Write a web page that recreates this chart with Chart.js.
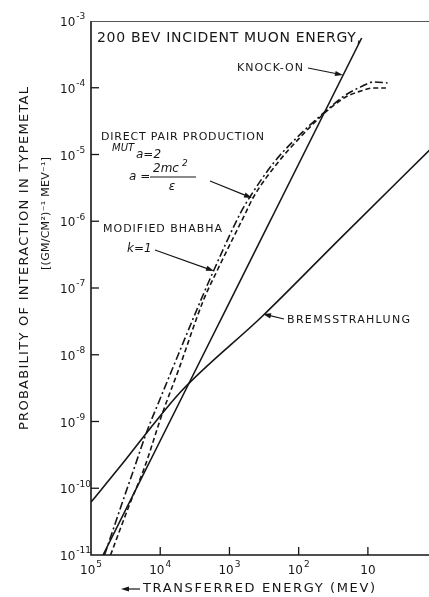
<!DOCTYPE html>
<html>
<head>
<meta charset="utf-8">
<script src="https://cdn.jsdelivr.net/npm/chart.js@4.4.1/dist/chart.umd.min.js"></script>
<style>
  html, body { margin: 0; padding: 0; background: #fff; }
  #wrap { width: 429px; height: 597px; }
</style>
</head>
<body>
<div id="wrap"><canvas id="muonChart" width="429" height="597"></canvas></div>
<script>
// transferred energy (MeV) vs probability
const knockOnE = [6.7e4, 12.3];
const knockOnP = [1e-11, 5.56e-4];

const pairE = [6.38e4, 3.51e4, 2.43e4, 1.53e4, 1.02e4, 6.87e3, 2.62e3, 1.70e3, 692, 496, 231, 104, 43.7, 21, 12.7, 8.3, 5.2];
const pairP = [1e-11, 6.2e-11, 1.87e-10, 7.46e-10, 2.1e-9, 5.7e-9, 6.38e-8, 1.8e-7, 1.33e-6, 2.39e-6, 7.46e-6, 1.83e-5, 4.19e-5, 7.78e-5, 1.03e-4, 1.22e-4, 1.18e-4];

const bhabhaE = [5.22e4, 2.69e4, 1.74e4, 9.27e3, 5.45e3, 2.37e3, 1.49e3, 585, 449, 202, 94, 43.7, 21, 12.7, 8.3, 5.5];
const bhabhaP = [1e-11, 6.2e-11, 1.87e-10, 1.34e-9, 5.9e-9, 6.6e-8, 1.86e-7, 1.33e-6, 2.31e-6, 7.46e-6, 1.83e-5, 4.05e-5, 7.26e-5, 8.93e-5, 9.9e-5, 9.9e-5];

const bremsE = [1e5, 3.75e4, 1.38e4, 5.09e3, 321, 24.8, 1.28];
const bremsP = [6.2e-11, 2.15e-10, 8.0e-10, 2.77e-9, 3.94e-8, 5.6e-7, 1.17e-5];

// axis ticks (x axis runs from high energy on the left to low on the right)
const xTickValues = [1e5, 1e4, 1e3, 1e2, 10];
const xTickExps = ['5', '4', '3', '2', ''];
const yTickValues = [1e-3, 1e-4, 1e-5, 1e-6, 1e-7, 1e-8, 1e-9, 1e-10, 1e-11];
const yTickExps = ['-3', '-4', '-5', '-6', '-7', '-8', '-9', '-10', '-11'];

const ink = '#161616';
const face = '"DejaVu Sans", sans-serif';

function toPoints(es, ps) {
    return es.map((e, i) => ({ x: e, y: ps[i] }));
}

// draw text stretched (by letter spacing) between x0 and x1
function fitText(ctx, text, x0, x1, y, font) {
    ctx.font = font;
    if ('letterSpacing' in ctx) ctx.letterSpacing = '0px';
    const w = ctx.measureText(text).width;
    const sp = (x1 - x0 - w) / Math.max(text.length - 1, 1);
    ctx.textAlign = 'left';
    ctx.textBaseline = 'middle';
    if (sp >= 0 && 'letterSpacing' in ctx) {
        ctx.letterSpacing = sp + 'px';
        ctx.fillText(text, x0, y);
        ctx.letterSpacing = '0px';
    } else {
        ctx.save();
        ctx.translate(x0, y);
        ctx.scale((x1 - x0) / w, 1);
        ctx.fillText(text, 0, 0);
        ctx.restore();
    }
}

function plainText(ctx, text, x, y, font) {
    ctx.font = font;
    ctx.textAlign = 'left';
    ctx.textBaseline = 'middle';
    ctx.fillText(text, x, y);
}

function arrow(ctx, x0, y0, x1, y1) {
    const a = Math.atan2(y1 - y0, x1 - x0);
    ctx.beginPath();
    ctx.moveTo(x0, y0);
    ctx.lineTo(x1 - 5 * Math.cos(a), y1 - 5 * Math.sin(a));
    ctx.stroke();
    ctx.beginPath();
    ctx.moveTo(x1, y1);
    ctx.lineTo(x1 - 8 * Math.cos(a) + 2.6 * Math.sin(a), y1 - 8 * Math.sin(a) - 2.6 * Math.cos(a));
    ctx.lineTo(x1 - 8 * Math.cos(a) - 2.6 * Math.sin(a), y1 - 8 * Math.sin(a) + 2.6 * Math.cos(a));
    ctx.closePath();
    ctx.fill();
}

function power(ctx, exp, x, y, align) {
    ctx.font = '12px ' + face;
    const wb = ctx.measureText('10').width;
    ctx.font = '9px ' + face;
    const we = exp ? ctx.measureText(exp).width + 1 : 0;
    const left = align === 'center' ? x - (wb + we) / 2 : x;
    ctx.textAlign = 'left';
    ctx.textBaseline = 'middle';
    ctx.font = '12px ' + face;
    ctx.fillText('10', left, y);
    if (exp) {
        ctx.font = '9px ' + face;
        ctx.fillText(exp, left + wb + 1, y - 6);
    }
}

const decor = {
    id: 'decor',
    afterDraw(chart) {
        const ctx = chart.ctx;
        const xs = chart.scales.x, ys = chart.scales.y;
        const a = chart.chartArea;
        ctx.save();
        ctx.strokeStyle = ink;
        ctx.fillStyle = ink;

        // frame: left axis, bottom axis, thin top line
        ctx.lineWidth = 1.6;
        ctx.beginPath();
        ctx.moveTo(a.left, a.top);
        ctx.lineTo(a.left, a.bottom);
        ctx.lineTo(a.right, a.bottom);
        ctx.stroke();
        ctx.lineWidth = 1;
        ctx.strokeStyle = '#555';
        ctx.beginPath();
        ctx.moveTo(a.left, a.top + 0.5);
        ctx.lineTo(a.right, a.top + 0.5);
        ctx.stroke();
        ctx.strokeStyle = ink;

        // inward ticks and labels
        ctx.lineWidth = 1.3;
        yTickValues.forEach((v, i) => {
            const py = ys.getPixelForValue(v);
            if (i > 0 && i < yTickValues.length - 1) {
                ctx.beginPath();
                ctx.moveTo(a.left, py);
                ctx.lineTo(a.left + 8, py);
                ctx.stroke();
            }
            power(ctx, yTickExps[i], 60, py + 2, 'left');
        });
        xTickValues.forEach((v, i) => {
            const px = xs.getPixelForValue(v);
            if (i > 0) {
                ctx.beginPath();
                ctx.moveTo(px, a.bottom);
                ctx.lineTo(px, a.bottom - 8);
                ctx.stroke();
            }
            power(ctx, xTickExps[i], px, 571, 'center');
        });

        // axis titles
        ctx.lineWidth = 1.2;
        arrow(ctx, 140, 589, 121, 589);
        fitText(ctx, 'TRANSFERRED ENERGY (MEV)', 143, 375, 589, '13px ' + face);

        ctx.save();
        ctx.translate(25, 430);
        ctx.rotate(-Math.PI / 2);
        fitText(ctx, 'PROBABILITY OF INTERACTION IN TYPEMETAL', 0, 343, 0, '13px ' + face);
        ctx.restore();
        ctx.save();
        ctx.translate(46, 270);
        ctx.rotate(-Math.PI / 2);
        fitText(ctx, '[(GM/CM²)⁻¹ MEV⁻¹]', 0, 113, 0, '11px ' + face);
        ctx.restore();

        // annotations
        fitText(ctx, '200 BEV INCIDENT MUON ENERGY,', 97, 361, 38, '14px ' + face);
        fitText(ctx, 'KNOCK-ON', 237, 303, 68, '11px ' + face);
        fitText(ctx, 'DIRECT PAIR PRODUCTION', 101, 264, 137, '11px ' + face);
        plainText(ctx, 'MUT', 112, 148, 'italic 10px ' + face);
        plainText(ctx, 'a=2', 136, 155, 'italic 12px ' + face);
        plainText(ctx, 'a =', 129, 177, 'italic 12px ' + face);
        plainText(ctx, '2mc', 153, 169, 'italic 12px ' + face);
        plainText(ctx, '2', 182, 164, 'italic 9px ' + face);
        ctx.lineWidth = 1.1;
        ctx.beginPath();
        ctx.moveTo(150, 177);
        ctx.lineTo(196, 177);
        ctx.stroke();
        ctx.font = 'italic 12px ' + face;
        ctx.textAlign = 'center';
        ctx.fillText('ε', 172, 187);
        fitText(ctx, 'MODIFIED BHABHA', 103, 222, 229, '11px ' + face);
        plainText(ctx, 'k=1', 127, 249, 'italic 12px ' + face);
        fitText(ctx, 'BREMSSTRAHLUNG', 287, 410, 320, '11px ' + face);

        ctx.lineWidth = 1.2;
        arrow(ctx, 308, 68, 343, 75);
        arrow(ctx, 210, 181, 252, 198);
        arrow(ctx, 155, 250, 214, 271);
        arrow(ctx, 284, 319, 263, 314);
        ctx.restore();
    }
};

const curveStyle = {
    showLine: true,
    borderColor: ink,
    borderWidth: 1.6,
    pointRadius: 0,
    fill: false
};

const muonChart = new Chart(document.getElementById('muonChart'), {
    type: 'scatter',
    data: {
        datasets: [
            Object.assign({ label: 'Knock-on', data: toPoints(knockOnE, knockOnP), tension: 0 }, curveStyle),
            Object.assign({ label: 'Direct pair production', data: toPoints(pairE, pairP),
                cubicInterpolationMode: 'monotone', borderDash: [8, 3, 2, 3] }, curveStyle),
            Object.assign({ label: 'Modified Bhabha', data: toPoints(bhabhaE, bhabhaP),
                cubicInterpolationMode: 'monotone', borderDash: [5, 3] }, curveStyle),
            Object.assign({ label: 'Bremsstrahlung', data: toPoints(bremsE, bremsP),
                cubicInterpolationMode: 'monotone' }, curveStyle)
        ]
    },
    options: {
        responsive: false,
        animation: false,
        devicePixelRatio: 1,
        layout: { padding: { top: 21, right: 0, bottom: 0, left: 0 } },
        plugins: {
            legend: { display: false },
            tooltip: { enabled: false }
        },
        scales: {
            x: {
                type: 'logarithmic',
                reverse: true,
                min: 1.31,
                max: 1e5,
                ticks: { display: false },
                grid: { display: false },
                border: { display: false },
                afterFit: s => { s.height = 42; }
            },
            y: {
                type: 'logarithmic',
                min: 1e-11,
                max: 1e-3,
                ticks: { display: false },
                grid: { display: false },
                border: { display: false },
                afterFit: s => { s.width = 91; }
            }
        }
    },
    plugins: [decor]
});
</script>
</body>
</html>
